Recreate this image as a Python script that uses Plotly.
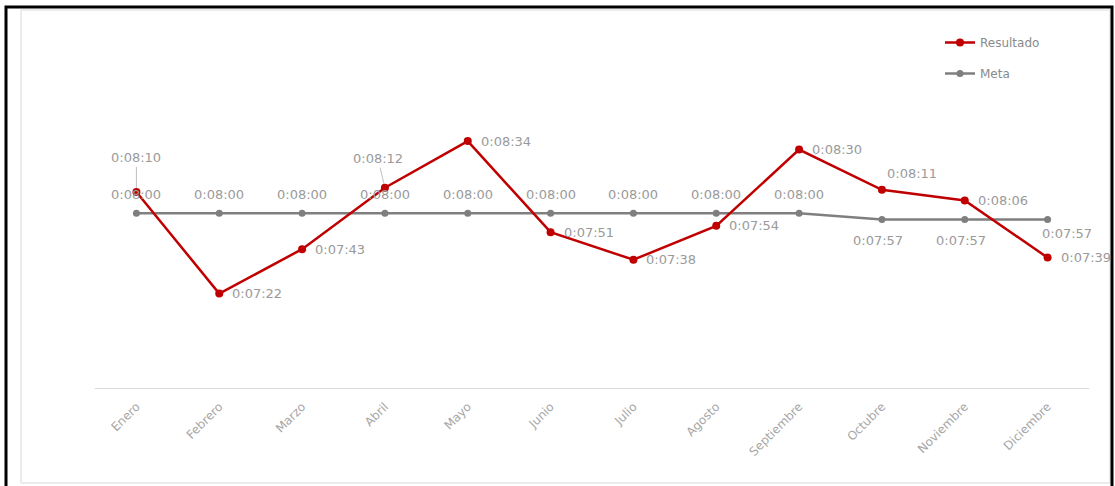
import plotly.graph_objects as go

# ---------------- data ----------------
meses = ["Enero", "Febrero", "Marzo", "Abril", "Mayo", "Junio", "Julio",
         "Agosto", "Septiembre", "Octubre", "Noviembre", "Diciembre"]
resultado = ["0:08:10", "0:07:22", "0:07:43", "0:08:12", "0:08:34", "0:07:51",
             "0:07:38", "0:07:54", "0:08:30", "0:08:11", "0:08:06", "0:07:39"]
meta = ["0:08:00", "0:08:00", "0:08:00", "0:08:00", "0:08:00", "0:08:00",
        "0:08:00", "0:08:00", "0:08:00", "0:07:57", "0:07:57", "0:07:57"]

# label placement per point (style only)
res_pos = ["lead0", "right", "right", "lead1", "right", "right",
           "right", "right", "right", "above_r", "right", "right"]
meta_pos = ["above"] * 9 + ["below", "below", "below_r"]


def to_sec(s):
    h, m, x = map(int, s.split(":"))
    return h * 3600 + m * 60 + x


res_s = [to_sec(v) for v in resultado]
meta_s = [to_sec(v) for v in meta]

W, H = 1115, 486
L, R, T, B = 95, 26, 22, 98
PW, PH = W - L - R, H - T - B


def px(x):
    return (x - L) / PW


def py(y):
    return (H - B - y) / PH


RED = "#C00000"
GRAY = "#7F7F7F"
TXT = "#9a9a9a"
FONT = "DejaVu Sans"

fig = go.Figure()
fig.add_trace(go.Scatter(
    x=meses, y=meta_s, name="Meta", mode="lines+markers",
    line=dict(color=GRAY, width=2.5), marker=dict(color=GRAY, size=7),
    legendgroup="b", legendrank=2, cliponaxis=False))
fig.add_trace(go.Scatter(
    x=meses, y=res_s, name="Resultado", mode="lines+markers",
    line=dict(color=RED, width=2.5), marker=dict(color=RED, size=8),
    legendgroup="a", legendrank=1, cliponaxis=False))

styles = {
    "right": dict(xanchor="left", xshift=11, yshift=0),
    "above": dict(xanchor="center", xshift=0, yshift=19),
    "below": dict(xanchor="center", xshift=-4, yshift=-21),
    "below_r": dict(xanchor="center", xshift=19, yshift=-14),
    "above_r": dict(xanchor="left", xshift=3, yshift=16),
}
leads = {"lead0": (0, -34), "lead1": (-7, -29)}

annotations = []
for vals, txts, pos in ((meta_s, meta, meta_pos), (res_s, resultado, res_pos)):
    for m, v, t, p in zip(meses, vals, txts, pos):
        base = dict(x=m, y=v, xref="x", yref="y", text=t,
                    font=dict(family=FONT, size=13, color=TXT))
        if p in leads:
            ax, ay = leads[p]
            base.update(showarrow=True, ax=ax, ay=ay, arrowhead=0,
                        arrowwidth=0.8, arrowcolor="#b0b0b0", standoff=4)
        else:
            base.update(showarrow=False, yanchor="middle", **styles[p])
        annotations.append(base)

shapes = [
    dict(type="rect", xref="paper", yref="paper",
         x0=px(21), x1=px(1110), y0=py(483), y1=py(10),
         line=dict(color="#d9d9d9", width=1), layer="below"),
    dict(type="rect", xref="paper", yref="paper",
         x0=px(6), x1=px(1112), y0=py(495), y1=py(7),
         line=dict(color="black", width=3)),
]

fig.update_layout(
    width=W, height=H,
    margin=dict(l=L, r=R, t=T, b=B),
    paper_bgcolor="white", plot_bgcolor="white",
    showlegend=True,
    legend=dict(x=px(940), y=py(28), xanchor="left", yanchor="top",
                font=dict(family=FONT, size=12, color="#8a8a8a"),
                tracegroupgap=12, bgcolor="rgba(0,0,0,0)"),
    annotations=annotations,
    shapes=shapes,
    xaxis=dict(type="category", range=[-0.5, 11.5], showgrid=False,
               showline=True, linecolor="#d9d9d9", linewidth=1,
               ticks="", tickangle=-45, ticklabelstandoff=6,
               tickfont=dict(family=FONT, size=12, color="#a6a6a6"),
               zeroline=False),
    yaxis=dict(range=[397.44, 570.24], visible=False, showgrid=False,
               zeroline=False),
)

fig.write_html("out.html",
               config={"displayModeBar": False},
               post_script="document.body.style.margin='0px';"
                           "document.body.style.overflow='hidden';")
